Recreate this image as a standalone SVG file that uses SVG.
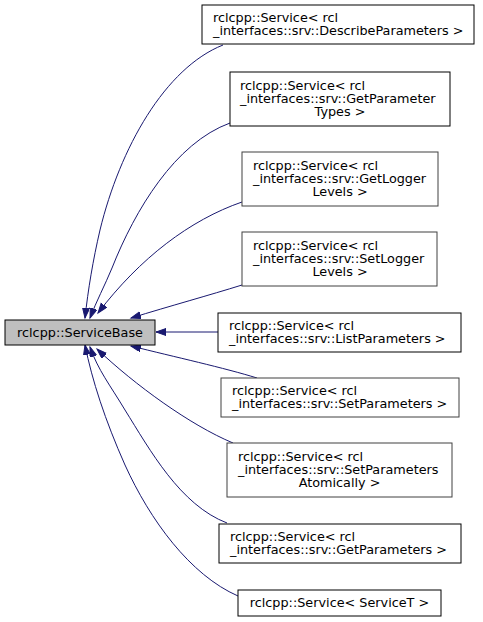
<svg xmlns="http://www.w3.org/2000/svg" width="483" height="622" viewBox="0 0 483 622">
<style>
  .bg{fill:#ffffff}
  .node rect{fill:#ffffff;stroke:#000000;stroke-width:1}
  .node.grey rect{stroke:#404040}
  .node.root rect{fill:#bfbfbf;stroke:#000000}
  text{font-family:"DejaVu Sans","Liberation Sans",sans-serif;font-size:12.8px;fill:#000000}
  .mid{text-anchor:middle}
  .edge{fill:none;stroke:#191970;stroke-width:1;marker-end:url(#arrow)}
</style>
<defs>
  <marker id="arrow" markerUnits="userSpaceOnUse" markerWidth="12" markerHeight="9" refX="10" refY="3.5" orient="auto">
    <path d="M0,0 L10,3.5 L0,7 Z" fill="#191970" stroke="#191970" stroke-width="1"/>
  </marker>
</defs>
<rect class="bg" x="0" y="0" width="483" height="622"/>

<g id="connectors">
  <path class="edge" d="M223,45 C165,68 120,148 100,230 C93,260 88,290 85,318"/>
  <path class="edge" d="M230,123 C175,143 135,210 112,268 C105,285 96,302 90,318"/>
  <path class="edge" d="M242,202 C190,220 140,258 98,313"/>
  <path class="edge" d="M242,285 C210,295 170,306 131,318"/>
  <path class="edge" d="M218,332 L156,332"/>
  <path class="edge" d="M257,378 C225,368 175,357 131,346"/>
  <path class="edge" d="M233,443 C190,425 135,385 97,349"/>
  <path class="edge" d="M227,523 C180,505 150,450 125,410 C110,385 98,370 90,347"/>
  <path class="edge" d="M238,596 C190,575 150,520 125,465 C105,420 92,380 85,345"/>
</g>

<g id="node_ServiceBase" class="node root">
  <rect x="5" y="320" width="150" height="25"/>
  <text class="mid" x="80" y="337">rclcpp::ServiceBase</text>
</g>

<g id="node_DescribeParameters" class="node">
  <rect x="202" y="5" width="272" height="39"/>
  <text x="213" y="21.5">rclcpp::Service&lt; rcl</text>
  <text x="213" y="34.5">_interfaces::srv::DescribeParameters &gt;</text>
</g>

<g id="node_GetParameterTypes" class="node">
  <rect x="230" y="72" width="220" height="54"/>
  <text x="240" y="89.5">rclcpp::Service&lt; rcl</text>
  <text x="240" y="102.5">_interfaces::srv::GetParameter</text>
  <text class="mid" x="340" y="115.5">Types &gt;</text>
</g>

<g id="node_GetLoggerLevels" class="node grey">
  <rect x="242" y="152" width="196" height="54"/>
  <text x="253" y="169.5">rclcpp::Service&lt; rcl</text>
  <text x="253" y="182.5">_interfaces::srv::GetLogger</text>
  <text class="mid" x="340" y="195.5">Levels &gt;</text>
</g>

<g id="node_SetLoggerLevels" class="node grey">
  <rect x="242" y="232" width="195" height="54"/>
  <text x="253" y="249.5">rclcpp::Service&lt; rcl</text>
  <text x="253" y="262.5">_interfaces::srv::SetLogger</text>
  <text class="mid" x="340" y="275.5">Levels &gt;</text>
</g>

<g id="node_ListParameters" class="node">
  <rect x="218" y="313" width="243" height="39"/>
  <text x="229" y="329.5">rclcpp::Service&lt; rcl</text>
  <text x="229" y="342.5">_interfaces::srv::ListParameters &gt;</text>
</g>

<g id="node_SetParameters" class="node grey">
  <rect x="221" y="378" width="238" height="39"/>
  <text x="232" y="394.5">rclcpp::Service&lt; rcl</text>
  <text x="232" y="407.5">_interfaces::srv::SetParameters &gt;</text>
</g>

<g id="node_SetParametersAtomically" class="node grey">
  <rect x="227" y="443" width="225" height="54"/>
  <text x="238" y="460.5">rclcpp::Service&lt; rcl</text>
  <text x="238" y="473.5">_interfaces::srv::SetParameters</text>
  <text class="mid" x="339.5" y="486.5">Atomically &gt;</text>
</g>

<g id="node_GetParameters" class="node">
  <rect x="219" y="524" width="242" height="39"/>
  <text x="230" y="540.5">rclcpp::Service&lt; rcl</text>
  <text x="230" y="553.5">_interfaces::srv::GetParameters &gt;</text>
</g>

<g id="node_ServiceT" class="node">
  <rect x="238" y="590" width="203" height="26"/>
  <text class="mid" x="339.5" y="607">rclcpp::Service&lt; ServiceT &gt;</text>
</g>
</svg>
